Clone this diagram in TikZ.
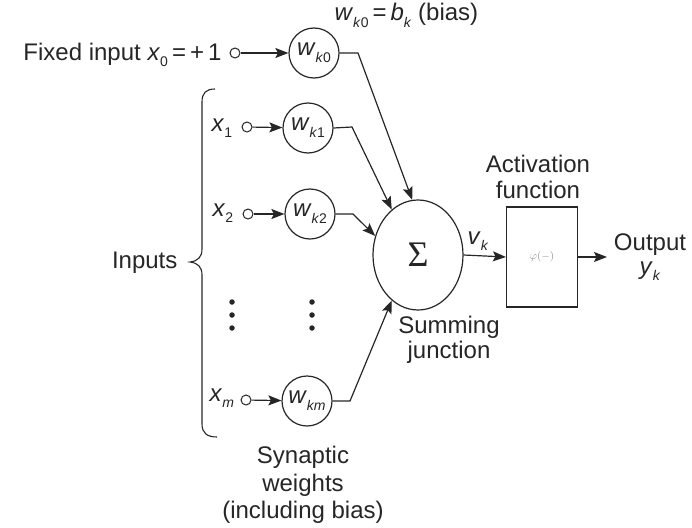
\documentclass[tikz,border=0pt]{standalone}
\usepackage{fontspec}
\setmainfont{Liberation Sans}
\newfontfamily\sigmafont{Liberation Serif}
\usetikzlibrary{arrows.meta,shapes.geometric}
\newcommand\lsub[1]{\raisebox{-0.55ex}{\fontsize{14}{14}\selectfont #1}}
\newcommand\ivar[1]{\textit{#1}}
\begin{document}
\begin{tikzpicture}[x=1pt,y=-1pt,line width=1.2pt,
  font=\fontsize{24}{28}\selectfont,
  ink/.style={draw=black!85},
  weight/.style={circle,ink,minimum size=50pt,inner sep=0pt,text=black!85},
  port/.style={circle,ink,minimum size=10pt,inner sep=0pt,line width=1pt},
  dotnode/.style={circle,fill=black!85,minimum size=5.5pt,inner sep=0pt},
  arr/.style={ink,-{Stealth[length=13pt,width=10pt,inset=2.5pt]}},
  wire/.style={ink},
  lbl/.style={inner sep=0pt,text=black!85}]
\useasboundingbox (0,0) rectangle (692,527);

% input ports and weights
\node[port] (p0) at (235,53) {};
\node[weight] (w0) at (314,53) {\ivar{w}\lsub{\ivar{k}0}};
\node[port] (p1) at (247,127) {};
\node[weight] (w1) at (308,128) {\ivar{w}\lsub{\ivar{k}1}};
\node[port] (p2) at (248,214) {};
\node[weight] (w2) at (310,214) {\ivar{w}\lsub{\ivar{k}2}};
\node[port] (pm) at (246,400) {};
\node[weight] (wm) at (307,401) {\ivar{w}\lsub{\ivar{km}}};

% dots
\node[dotnode] (da1) at (232,302) {};
\node[dotnode] (da2) at (232,315) {};
\node[dotnode] (da3) at (232,328) {};
\node[dotnode] (db1) at (312,302) {};
\node[dotnode] (db2) at (312,315) {};
\node[dotnode] (db3) at (312,328) {};

% summing junction and activation
\node[ellipse,ink,minimum width=90pt,minimum height=110pt,inner sep=0pt,text=black!85] (sum) at (418,255)
  {\fontsize{36}{36}\sigmafont Σ};
\node[rectangle,ink,minimum width=71pt,minimum height=100pt,inner sep=0pt] (act) at (542,257)
  {\fontsize{11}{11}\selectfont\color{black!45}$\varphi(-)$};
\coordinate (out) at (607,257);

% bends
\coordinate (b0) at (358,53);
\coordinate (b1) at (352,127);
\coordinate (b2) at (353,214);
\coordinate (bm) at (350,401);

% connectors
\draw[arr] (p0) -- (w0);
\draw[arr] (p1) -- (w1);
\draw[arr] (p2) -- (w2);
\draw[arr] (pm) -- (wm);
\draw[arr] (w0.east) -- (b0) -- (sum.96);
\draw[arr] (w1.east) -- (b1) -- (sum.120);
\draw[arr] (w2.east) -- (b2) -- (sum.156);
\draw[arr] (wm.east) -- (bm) -- (sum.240);
\draw[arr] (sum.east) -- (act.west);
\draw[arr] (act.east) -- (out);

% brace
\draw[wire,line width=1.1pt] (215,89) .. controls (206,89) and (202,93) .. (202,102) -- (202,249)
  .. controls (202,257) and (198,261) .. (190,262)
  .. controls (198,263) and (202,267) .. (202,275) -- (202,424)
  .. controls (202,433) and (207,437) .. (217,437);

% labels
\node[lbl,anchor=base east] (fixed) at (222,60) {Fixed input \ivar{x}\lsub{0}\,=\,+\,1};
\node[lbl,anchor=base west] (bias) at (334,21) {\ivar{w}\lsub{\ivar{k}0}\,=\,\ivar{b}\lsub{\ivar{k}} (bias)};
\node[lbl,anchor=base west] (x1) at (211,131) {\ivar{x}\lsub{1}};
\node[lbl,anchor=base west] (x2) at (212,216) {\ivar{x}\lsub{2}};
\node[lbl,anchor=base west] (xm) at (209,401) {\ivar{x}\lsub{\ivar{m}}};
\node[lbl,anchor=base east] (inputs) at (178,268) {Inputs};
\node[lbl,anchor=base] (vk) at (478,244) {\ivar{v}\lsub{\ivar{k}}};
\node[lbl,anchor=base] (act1) at (538,172) {Activation};
\node[lbl,anchor=base] (act2) at (538,198) {function};
\node[lbl,anchor=base] (sum1) at (449,333) {Summing};
\node[lbl,anchor=base] (sum2) at (449,358) {junction};
\node[lbl,anchor=base] (out1) at (650,250) {Output};
\node[lbl,anchor=base] (out2) at (650,274) {\ivar{y}\lsub{\ivar{k}}};
\node[lbl,anchor=base] (syn1) at (303,463) {Synaptic};
\node[lbl,anchor=base] (syn2) at (303,491) {weights};
\node[lbl,anchor=base] (syn3) at (303,518) {(including bias)};
\end{tikzpicture}
\end{document}
